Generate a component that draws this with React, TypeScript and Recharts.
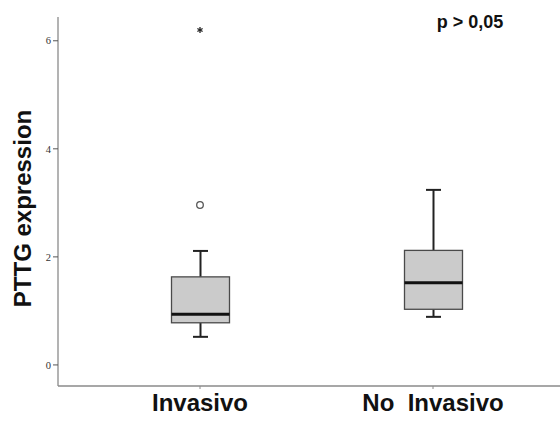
import React from 'react'
import { ComposedChart, Bar, Scatter, XAxis, YAxis } from 'recharts'

// five-number summaries per group
const groups = ['Invasivo', 'No  Invasivo']
const whiskerLow = [0.52, 0.89]
const quartile1 = [0.78, 1.03]
const medians = [0.94, 1.52]
const quartile3 = [1.63, 2.12]
const whiskerHigh = [2.11, 3.24]
// outliers (circle) and extremes (star)
const outliers = [2.96, null]
const extremes = [6.2, null]
const yTicks = [0, 2, 4, 6]

const rows = groups.map((group, i) => ({
  group,
  low: whiskerLow[i],
  q1: quartile1[i],
  median: medians[i],
  q3: quartile3[i],
  high: whiskerHigh[i],
  outlier: outliers[i],
  extreme: extremes[i],
}))

const BoxShape = (props: any) => {
  const { x, y, width, height, payload } = props
  const top = Math.min(y, y + height)
  const h = Math.abs(height)
  const { low, q1, median, q3, high } = payload
  const py = (v: number) => top + (h * (high - v)) / (high - low)
  const cx = x + width / 2
  const cap = 7.5
  return (
    <g>
      <line x1={cx} x2={cx} y1={py(high)} y2={py(q3)} stroke="#222" strokeWidth={2} />
      <line x1={cx} x2={cx} y1={py(q1)} y2={py(low)} stroke="#222" strokeWidth={2} />
      <line x1={cx - cap} x2={cx + cap} y1={py(high)} y2={py(high)} stroke="#222" strokeWidth={2} />
      <line x1={cx - cap} x2={cx + cap} y1={py(low)} y2={py(low)} stroke="#222" strokeWidth={2} />
      <rect x={x} y={py(q3)} width={width} height={py(q1) - py(q3)} fill="#cbcbcb" stroke="#4a4a4a" strokeWidth={1.3} />
      <line x1={x} x2={x + width} y1={py(median)} y2={py(median)} stroke="#111" strokeWidth={3} />
    </g>
  )
}

const CircleShape = (props: any) => {
  const { cx, cy, payload } = props
  if (payload?.outlier == null || !isFinite(cy)) return <g />
  return <circle cx={cx} cy={cy} r={3.3} fill="#fff" stroke="#555" strokeWidth={1.3} />
}

const StarShape = (props: any) => {
  const { cx, cy, payload } = props
  if (payload?.extreme == null || !isFinite(cy)) return <g />
  const r = 3
  return (
    <g stroke="#222" strokeWidth={1.3}>
      <line x1={cx} x2={cx} y1={cy - r} y2={cy + r} />
      <line x1={cx - r * 0.87} x2={cx + r * 0.87} y1={cy - r / 2} y2={cy + r / 2} />
      <line x1={cx - r * 0.87} x2={cx + r * 0.87} y1={cy + r / 2} y2={cy - r / 2} />
    </g>
  )
}

const GroupTick = (props: any) => {
  const { x, y, payload } = props
  return (
    <text
      x={x}
      y={y + 20}
      textAnchor="middle"
      fontFamily="Arial, 'Liberation Sans', sans-serif"
      fontWeight="bold"
      fontSize={24}
      fill="#111"
      style={{ whiteSpace: 'pre' }}
    >
      {payload.value}
    </text>
  )
}

const YTitle = (props: any) => {
  const { viewBox } = props
  const cy = viewBox.y + viewBox.height / 2 + 7
  return (
    <text
      x={22}
      y={cy}
      transform={`rotate(-90, 22, ${cy})`}
      textAnchor="middle"
      dominantBaseline="central"
      fontFamily="Arial, 'Liberation Sans', sans-serif"
      fontWeight="bold"
      fontSize={24}
      fill="#111"
    >
      PTTG expression
    </text>
  )
}

export default function App() {
  return (
    <div style={{ position: 'absolute', left: 0, top: 0, background: '#fff' }}>
      <ComposedChart width={560} height={421} data={rows} margin={{ top: 17, right: 0, bottom: 0, left: 0 }}>
        <XAxis
          dataKey="group"
          type="category"
          allowDuplicatedCategory={false}
          height={35}
          padding={{ left: 25.5, right: 10.5 }}
          axisLine={{ stroke: '#8a8a8a', strokeWidth: 1.3 }}
          tickLine={{ stroke: '#8a8a8a' }}
          tickSize={3}
          tick={<GroupTick />}
          interval={0}
        />
        <YAxis
          type="number"
          width={58}
          domain={[-0.39, 6.44]}
          ticks={yTicks}
          allowDataOverflow
          axisLine={{ stroke: '#8a8a8a', strokeWidth: 1.3 }}
          tickLine={{ stroke: '#555' }}
          tickSize={5}
          tickMargin={2}
          tick={{ fontSize: 10.5, fill: '#333', fontFamily: "'Liberation Serif', serif" }}
          label={<YTitle />}
        />
        <Bar
          dataKey={(d: any) => [d.low, d.high]}
          barSize={58}
          shape={<BoxShape />}
          isAnimationActive={false}
        />
        <Scatter dataKey="outlier" shape={<CircleShape />} isAnimationActive={false} />
        <Scatter dataKey="extreme" shape={<StarShape />} isAnimationActive={false} />
        <text
          x={470}
          y={28}
          textAnchor="middle"
          fontFamily="Arial, 'Liberation Sans', sans-serif"
          fontWeight="bold"
          fontSize={18}
          fill="#111"
        >
          p &gt; 0,05
        </text>
      </ComposedChart>
    </div>
  )
}
